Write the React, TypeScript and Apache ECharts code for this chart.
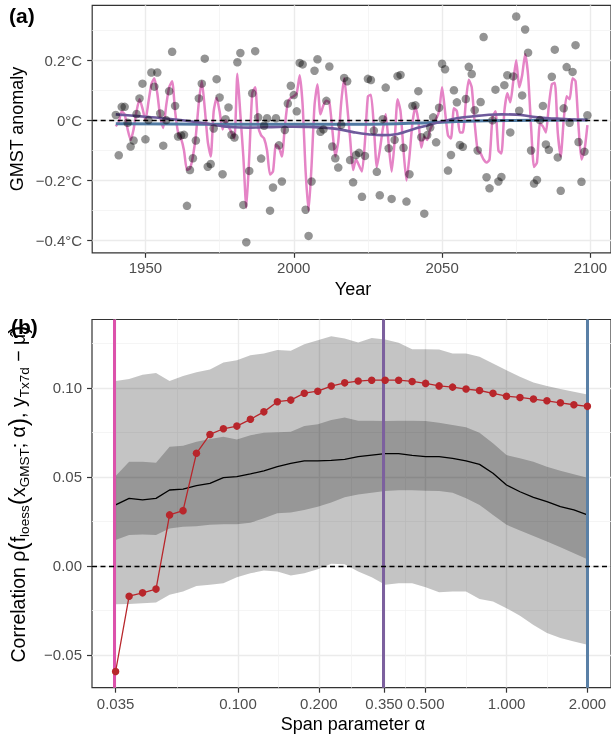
import React, { useEffect, useRef } from "react";
import * as echarts from "echarts";

// ---------- Panel (a) data ----------
const START_YEAR = 1940;
const GMST_POINTS = [
  0.018, -0.116, 0.045, 0.045, -0.008, -0.087, -0.067, 0.021, 0.073, 0.122,
  -0.063, 0.001, 0.159, 0.112, 0.159, 0.023, -0.084, 0.001, 0.097, 0.228,
  0.048, -0.054, -0.05, -0.048, -0.284, -0.165, -0.126, -0.067, 0.073, 0.122,
  0.205, -0.154, -0.145, -0.027, 0.137, 0.076, -0.179, 0.004, 0.043, -0.048,
  -0.057, 0.193, 0.224, -0.281, -0.405, -0.168, 0.09, 0.23, 0.01, -0.127,
  -0.018, 0.007, -0.3, -0.223, 0.007, -0.083, -0.203, -0.032, 0.056, 0.115,
  0.084, 0.03, 0.191, 0.186, -0.297, -0.384, -0.203, 0.165, 0.203, -0.038,
  -0.03, 0.065, 0.179, -0.087, -0.126, -0.157, -0.015, 0.141, 0.13, -0.132,
  -0.206, -0.115, -0.108, -0.254, -0.118, 0.138, 0.134, -0.034, -0.171, -0.249,
  0.004, 0.109, -0.093, -0.261, -0.065, 0.147, 0.151, -0.091, -0.27, -0.179,
  0.048, 0.05, 0.097, -0.056, -0.31, -0.049, -0.024, 0.01, -0.073, 0.042,
  0.188, 0.17, -0.167, -0.115, 0.1, 0.06, -0.082, -0.088, 0.071, 0.178,
  0.154, 0.034, -0.1, 0.061, 0.277, -0.189, -0.226, 0.0, 0.102, -0.203,
  -0.188, 0.117, 0.15, -0.04, 0.146, 0.345, 0.032, 0.083, 0.302, 0.225,
  -0.1, -0.21, -0.198, 0.001, 0.048, -0.08, -0.098, 0.145, 0.235, -0.123,
  -0.234, 0.04, 0.177, -0.008, 0.161, 0.25, -0.072, -0.204, -0.104, 0.017,
];
const FIT_SPAN_0035 = [
  -0.02, -0.005, 0.03, 0.02, -0.03, -0.065, -0.03, 0.03, 0.07, 0.04,
  0.0, 0.06, 0.12, 0.14, 0.09, 0.01, -0.025, 0.05, 0.11, 0.13,
  0.03, -0.04, -0.06, -0.1, -0.165, -0.16, -0.12, -0.05, 0.06, 0.13,
  0.04, -0.07, -0.12, 0.03, 0.075, 0.03, -0.03, 0.0, -0.02, -0.04,
  -0.06, 0.155, 0.02, -0.12, -0.29, -0.12, 0.09, 0.11, -0.02, -0.05,
  -0.06, -0.1, -0.18, -0.17, -0.08, -0.09, -0.12, -0.02, 0.06, 0.075,
  0.08, 0.09, 0.15, 0.05, -0.17, -0.3, -0.15, 0.05, 0.12, 0.02,
  0.05, 0.065, 0.06, -0.03, -0.12, -0.07, 0.06, 0.14, 0.05, -0.06,
  -0.165, -0.13, -0.15, -0.17, -0.07, 0.08, 0.085, -0.02, -0.155, -0.1,
  -0.03, 0.02, -0.08, -0.17, -0.07, 0.07, 0.03, -0.1, -0.2, -0.12,
  -0.01, 0.045, 0.0, -0.09, -0.055, -0.065, -0.03, -0.01, 0.005, 0.03,
  0.11, 0.03, -0.05, -0.06, 0.04, 0.03, -0.04, -0.04, 0.06, 0.135,
  0.11, -0.01, -0.1, -0.11, -0.13, -0.14, -0.13, 0.01, 0.03, -0.1,
  -0.11, 0.03, 0.09, 0.06, 0.13, 0.2, 0.11, 0.15, 0.22, 0.15,
  -0.02, -0.155, -0.14, -0.01, -0.02, -0.04, 0.05, 0.12, 0.125, -0.04,
  -0.12, 0.0, 0.08, 0.07, 0.14, 0.13, -0.02, -0.13, -0.1, -0.016,
];
const FIT_SPAN_035_YEARS = [1940, 1945, 1950, 1955, 1960, 1965, 1970, 1975, 1980, 1985, 1990, 1995, 2000, 2005, 2010, 2015, 2020, 2025, 2030, 2035, 2040, 2045, 2050, 2055, 2060, 2065, 2070, 2075, 2080, 2085, 2090, 2095, 2099];
const FIT_SPAN_035 = [0.02, 0.016, 0.012, 0.008, 0.003, -0.003, -0.01, -0.018, -0.023, -0.024, -0.023, -0.022, -0.021, -0.022, -0.024, -0.029, -0.039, -0.046, -0.049, -0.045, -0.03, -0.017, -0.004, 0.007, 0.013, 0.018, 0.02, 0.019, 0.013, 0.008, 0.005, 0.003, 0.001];
const FIT_SPAN_2_YEARS = [1940, 1960, 1980, 2000, 2020, 2035, 2045, 2055, 2065, 2080, 2099];
const FIT_SPAN_2 = [-0.011, -0.012, -0.013, -0.013, -0.013, -0.011, -0.008, -0.004, -0.001, 0.0, 0.001];

const YEAR_TICKS = [1950, 2000, 2050, 2100];
const YEAR_MINOR = [1975, 2025, 2075];
const GMST_TICKS = [-0.4, -0.2, 0, 0.2];
const GMST_MINOR = [-0.3, -0.1, 0.1, 0.3];

// ---------- Panel (b) data ----------
const SPAN_ALPHA = [
  0.035, 0.0393, 0.0441, 0.0495, 0.0556, 0.0624, 0.07, 0.0786, 0.0882, 0.099,
  0.1112, 0.1248, 0.1401, 0.1572, 0.1765, 0.1981, 0.2224, 0.2496, 0.2802, 0.3146,
  0.3531, 0.3964, 0.445, 0.4995, 0.5607, 0.6294, 0.7065, 0.7931, 0.8903, 0.9994,
  1.1218, 1.2593, 1.4136, 1.5868, 1.7812, 2.0,
];
const RHO_OBSERVED = [
  -0.0594, -0.0171, -0.0152, -0.0131, 0.0286, 0.031, 0.0632, 0.0738, 0.077, 0.0785,
  0.0823, 0.0865, 0.0922, 0.0931, 0.097, 0.0981, 0.101, 0.1028, 0.1038, 0.1043,
  0.1043, 0.1043, 0.1036, 0.1025, 0.1011, 0.1004, 0.0993, 0.0985, 0.0969, 0.0953,
  0.0946, 0.0937, 0.0927, 0.0916, 0.0905, 0.0896,
];
const RHO_MEDIAN = [
  0.0342, 0.0379, 0.037, 0.0379, 0.0426, 0.0431, 0.045, 0.0463, 0.0495, 0.0501,
  0.0516, 0.0534, 0.0557, 0.0576, 0.059, 0.059, 0.0592, 0.0598, 0.0613, 0.0622,
  0.063, 0.063, 0.062, 0.0613, 0.0613, 0.0604, 0.0589, 0.057, 0.052, 0.0454,
  0.0416, 0.0385, 0.036, 0.0332, 0.0314, 0.0286,
];
const RHO_INNER_LOW = [
  0.0145, 0.0173, 0.0176, 0.0173, 0.021, 0.022, 0.0222, 0.023, 0.0233, 0.0233,
  0.0242, 0.0267, 0.0295, 0.0299, 0.0314, 0.0332, 0.0355, 0.0385, 0.04, 0.041,
  0.042, 0.0425, 0.0425, 0.0422, 0.042, 0.041, 0.038, 0.0342, 0.0286, 0.023,
  0.0198, 0.0168, 0.0136, 0.0104, 0.0071, 0.0037,
];
const RHO_INNER_HIGH = [
  0.0504, 0.0585, 0.0585, 0.0579, 0.0669, 0.0675, 0.0697, 0.0712, 0.0725, 0.071,
  0.0734, 0.0747, 0.075, 0.0753, 0.0785, 0.0795, 0.0819, 0.0834, 0.0815, 0.0815,
  0.0814, 0.0815, 0.0815, 0.0814, 0.0804, 0.0791, 0.0778, 0.0747, 0.0688, 0.0622,
  0.0604, 0.0585, 0.0557, 0.0534, 0.0514, 0.0495,
];
const RHO_OUTER_LOW = [
  -0.0216, -0.0215, -0.021, -0.0206, -0.0163, -0.0145, -0.0113, -0.0107, -0.0098, -0.0064,
  -0.0042, -0.0027, -0.0032, -0.0055, -0.0042, -0.0019, 0.0011, 0.0009, -0.0032, -0.0064,
  -0.0107, -0.0098, -0.0098, -0.012, -0.0148, -0.0145, -0.0145, -0.0186, -0.0201, -0.0238,
  -0.0281, -0.0332, -0.0378, -0.0406, -0.0425, -0.0444,
];
const RHO_OUTER_HIGH = [
  0.1038, 0.1049, 0.1073, 0.1084, 0.1038, 0.1066, 0.1088, 0.1103, 0.1143, 0.1155,
  0.1183, 0.1193, 0.1212, 0.1208, 0.1245, 0.1268, 0.129, 0.1277, 0.1255, 0.128,
  0.1272, 0.1253, 0.1217, 0.1217, 0.1215, 0.1193, 0.1193, 0.1174, 0.1137, 0.1099,
  0.1062, 0.103, 0.101, 0.0993, 0.0978, 0.0963,
];
const ALPHA_TICKS = [0.035, 0.1, 0.2, 0.35, 0.5, 1, 2];
const ALPHA_MINOR = [0.0592, 0.1414, 0.2646, 0.4183, 0.7071, 1.4142];
const RHO_TICKS = [-0.05, 0, 0.05, 0.1];
const RHO_MINOR = [-0.025, 0.025, 0.075, 0.125];
const HIGHLIGHT_SPANS = [0.035, 0.35, 2.0];

const PINK = "#DC52AB";
const PINK_LINE = "#E584C6";
const PURPLE = "#6E5A9B";
const BLUE = "#4F79A2";
const RED = "#B8262B";
const HIGHLIGHT_COLORS = [PINK, "#7C609E", "#5A80A6"];

const FONT = "'Liberation Sans', Arial, Helvetica, sans-serif";
const TICK_COLOR = "#4D4D4D";
const GRID_MAJOR = "#EBEBEB";
const GRID_MINOR = "#F3F3F3";

function fmtMinus(s: string) {
  return s.replace("-", "\u2212");
}

export default function App() {
  const ref = useRef<HTMLDivElement>(null);

  useEffect(() => {
    if (!ref.current) return;
    const chart = echarts.init(ref.current, undefined, { renderer: "svg" });

    const years = GMST_POINTS.map((_, i) => START_YEAR + i);
    const lx = (a: number) => Math.log10(a);
    const xs = SPAN_ALPHA.map(lx);

    const pair = (x: number[], y: number[]) => x.map((v, i) => [v, y[i]]);

    const tickStyle = { show: true, length: 5, lineStyle: { color: "#333", width: 1.2 } };
    const labelBase = { color: TICK_COLOR, fontSize: 15, fontFamily: FONT };

    const majorAxis = (grid: number, min: number, max: number, ticks: number[], fmt: (v: number) => string, margin: number) => ({
      type: "value",
      gridIndex: grid,
      min,
      max,
      axisLine: { show: false, onZero: false },
      axisTick: { ...tickStyle, customValues: ticks },
      axisLabel: { ...labelBase, margin, customValues: ticks, formatter: fmt },
      splitLine: { show: true, lineStyle: { color: GRID_MAJOR, width: 1.4 } },
    });
    const minorAxis = (grid: number, min: number, max: number, ticks: number[]) => ({
      type: "value",
      gridIndex: grid,
      min,
      max,
      axisLine: { show: false, onZero: false },
      axisTick: { show: false, customValues: ticks },
      axisLabel: { show: false, customValues: ticks },
      splitLine: { show: true, lineStyle: { color: GRID_MINOR, width: 0.8 } },
    });

    const aXMin = 1932.05, aXMax = 2106.95, aYMin = -0.4401, aYMax = 0.3824;
    const bXMin = lx(0.035) - 0.0879, bXMax = lx(2) + 0.0879, bYMin = -0.0685, bYMax = 0.1384;

    const band = (low: number[], high: number[]) => ({
      type: "custom",
      xAxisIndex: 2,
      yAxisIndex: 2,
      silent: true,
      z: 1,
      data: [[xs[0], low[0]]],
      renderItem: (_params: any, api: any) => {
        const top = xs.map((x, i) => api.coord([x, high[i]]));
        const bottom = xs.map((x, i) => api.coord([x, low[i]])).reverse();
        return {
          type: "polygon",
          shape: { points: top.concat(bottom) },
          style: { fill: "#000", opacity: 0.23 },
          silent: true,
        };
      },
    });

    chart.setOption({
      animation: false,
      textStyle: { fontFamily: FONT },
      grid: [
        { left: 92.2, top: 5.3, width: 521.5, height: 247.5, show: true, borderColor: "#333", borderWidth: 1.2, backgroundColor: "transparent" },
        { left: 92.0, top: 319.5, width: 520.7, height: 368.2, show: true, borderColor: "#333", borderWidth: 1.2, backgroundColor: "transparent" },
      ],
      xAxis: [
        majorAxis(0, aXMin, aXMax, YEAR_TICKS, (v: number) => String(Math.round(v)), 7),
        minorAxis(0, aXMin, aXMax, YEAR_MINOR),
        majorAxis(1, bXMin, bXMax, ALPHA_TICKS.map(lx), (v: number) => Math.pow(10, v).toFixed(3), 8),
        minorAxis(1, bXMin, bXMax, ALPHA_MINOR.map(lx)),
      ],
      yAxis: [
        majorAxis(0, aYMin, aYMax, GMST_TICKS, (v: number) => fmtMinus(`${Math.abs(v) < 1e-9 ? "0" : v.toFixed(1)}°C`), 10),
        minorAxis(0, aYMin, aYMax, GMST_MINOR),
        majorAxis(1, bYMin, bYMax, RHO_TICKS, (v: number) => fmtMinus(Math.abs(v) < 1e-9 ? "0.00" : v.toFixed(2)), 10),
        minorAxis(1, bYMin, bYMax, RHO_MINOR),
      ],
      series: [
        // Panel (a)
        {
          type: "line", xAxisIndex: 0, yAxisIndex: 0, data: pair(years, FIT_SPAN_0035),
          symbol: "none", smooth: 0.2, lineStyle: { color: PINK_LINE, width: 2.5 }, z: 2, silent: true,
        },
        {
          type: "line", xAxisIndex: 0, yAxisIndex: 0, data: pair(FIT_SPAN_2_YEARS, FIT_SPAN_2),
          symbol: "none", smooth: true, lineStyle: { color: BLUE, width: 3 }, z: 3, silent: true,
        },
        {
          type: "line", xAxisIndex: 0, yAxisIndex: 0, data: pair(FIT_SPAN_035_YEARS, FIT_SPAN_035),
          symbol: "none", smooth: true, lineStyle: { color: PURPLE, width: 2.6 }, z: 3, silent: true,
        },
        {
          type: "scatter", xAxisIndex: 0, yAxisIndex: 0, data: pair(years, GMST_POINTS),
          symbolSize: 8.5, itemStyle: { color: "#000", opacity: 0.42 }, z: 4, silent: true,
        },
        {
          type: "line", xAxisIndex: 0, yAxisIndex: 0, data: [], z: 5, silent: true,
          markLine: {
            silent: true, symbol: ["none", "none"], label: { show: false },
            lineStyle: { color: "#000", type: [5, 3.5], width: 1.3 },
            data: [{ yAxis: 0 }],
          },
        },
        // Panel (b)
        band(RHO_OUTER_LOW, RHO_OUTER_HIGH),
        band(RHO_INNER_LOW, RHO_INNER_HIGH),
        {
          type: "line", xAxisIndex: 2, yAxisIndex: 2, data: pair(xs, RHO_MEDIAN),
          symbol: "none", lineStyle: { color: "#000", width: 1.3 }, z: 3, silent: true,
        },
        {
          type: "line", xAxisIndex: 2, yAxisIndex: 2, data: [], z: 4, silent: true,
          markLine: {
            silent: true, symbol: ["none", "none"], label: { show: false },
            data: HIGHLIGHT_SPANS.map((a, i) => ({ xAxis: lx(a), lineStyle: { color: HIGHLIGHT_COLORS[i], width: 3, type: "solid" } })),
          },
        },
        {
          type: "line", xAxisIndex: 2, yAxisIndex: 2, data: [], z: 5, silent: true,
          markLine: {
            silent: true, symbol: ["none", "none"], label: { show: false },
            lineStyle: { color: "#000", type: [5, 3.5], width: 1.3 },
            data: [{ yAxis: 0 }],
          },
        },
        {
          type: "line", xAxisIndex: 2, yAxisIndex: 2, data: pair(xs, RHO_OBSERVED),
          symbol: "circle", symbolSize: 7.5, itemStyle: { color: RED }, lineStyle: { color: RED, width: 1.3 }, z: 6, silent: true,
        },
      ],
      graphic: [
        { type: "text", left: 9, top: 5, style: { text: "(a)", fontSize: 21, fontWeight: "bold", fill: "#000", fontFamily: FONT } },
        { type: "text", left: 11, top: 316, style: { text: "(b)", fontSize: 21, fontWeight: "bold", fill: "#000", fontFamily: FONT } },
        { type: "text", x: 353, y: 289, style: { text: "Year", fontSize: 18, fill: "#000", fontFamily: FONT, align: "center", verticalAlign: "middle" } },
        { type: "text", x: 353, y: 724, style: { text: "Span parameter α", fontSize: 18, fill: "#000", fontFamily: FONT, align: "center", verticalAlign: "middle" } },
        { type: "text", x: 17, y: 129, rotation: Math.PI / 2, style: { text: "GMST anomaly", fontSize: 18, fill: "#000", fontFamily: FONT, align: "center", verticalAlign: "middle" } },
        {
          type: "text", x: 18, y: 494, rotation: Math.PI / 2,
          style: {
            text: "{n|Correlation ρ}{b|(}{n|f}{s|loess}{b|(}{n|x}{s|GMST}{n|; α}{b|)}{n|, y}{s|Tx7d}{n| − μ̂}{b|)}",
            align: "center", verticalAlign: "middle", fill: "#000", fontFamily: FONT,
            rich: {
              n: { fontSize: 19.5, lineHeight: 26, verticalAlign: "middle", fontFamily: FONT, fill: "#000" },
              s: { fontSize: 13.5, lineHeight: 15, verticalAlign: "bottom", fontFamily: FONT, fill: "#000" },
              b: { fontSize: 25, lineHeight: 26, verticalAlign: "middle", fontFamily: FONT, fill: "#000" },
            },
          },
        },
      ],
    });

    return () => chart.dispose();
  }, []);

  return <div ref={ref} style={{ position: "fixed", left: 0, top: 0, width: 611, height: 738 }} />;
}
